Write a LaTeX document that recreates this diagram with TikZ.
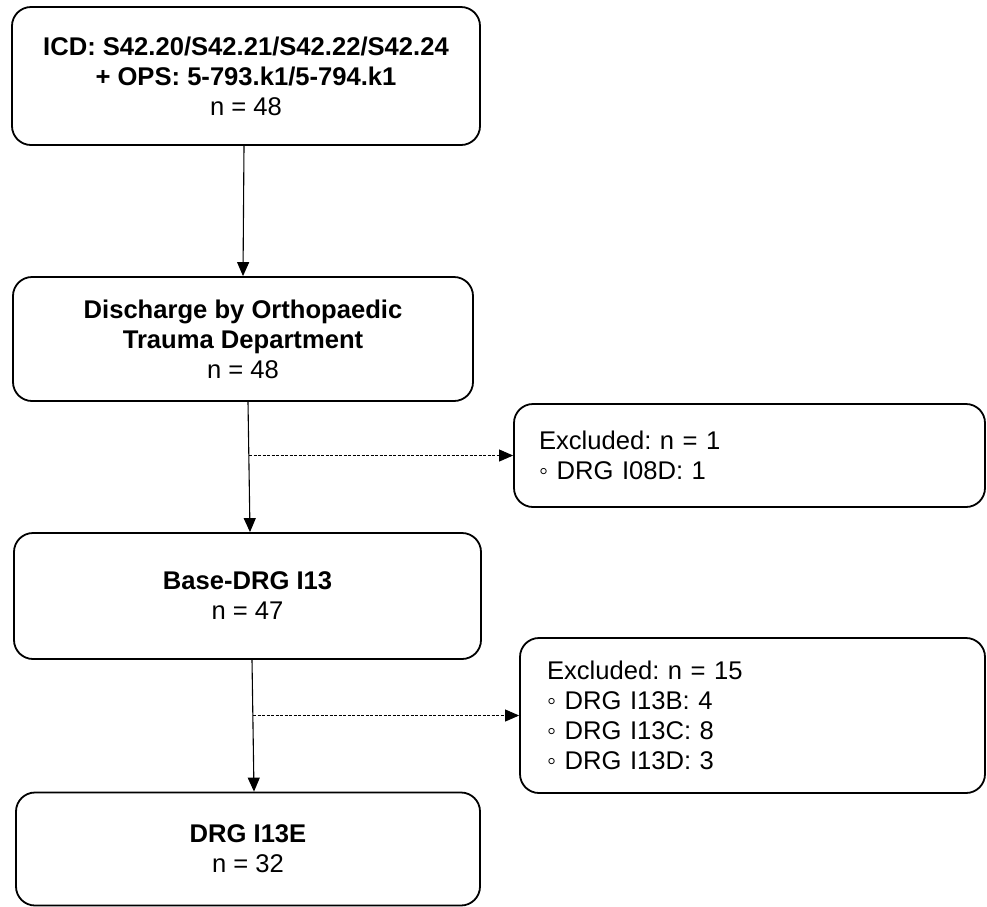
\documentclass[tikz,border=0pt]{standalone}
\usepackage{fontspec}
\setmainfont{Liberation Sans}
\usetikzlibrary{arrows.meta}
\frenchspacing

\tikzset{
  every node/.style={font=\fontsize{25.6}{30}\selectfont},
  stagebox/.style={draw, line width=1.8pt, rounded corners=19pt, inner sep=0pt,
    align=center},
  exclbox/.style={draw, line width=1.8pt, rounded corners=19pt, inner ysep=0pt,
    align=left},
  flow/.style={line width=1.1pt, -{Triangle[length=14pt,width=12pt]}},
  exclflow/.style={line width=0.9pt, dash pattern=on 3pt off 1.5pt,
    -{Triangle[length=14pt,width=12pt]}}
}

\begin{document}
\begin{tikzpicture}[x=1pt, y=-1pt]
  \useasboundingbox (0,0) rectangle (987,906);

  % main selection steps
  \node[stagebox, minimum width=468pt, minimum height=138pt] (b1) at (246,76)
    {\textbf{ICD: S42.20/S42.21/S42.22/S42.24}\\
     \textbf{+ OPS: 5-793.k1/5-794.k1}\\ n = 48};
  \node[stagebox, minimum width=460pt, minimum height=124pt] (b2) at (243,339)
    {\textbf{Discharge by Orthopaedic}\\ \textbf{Trauma Department}\\ n = 48};
  \node[stagebox, minimum width=467pt, minimum height=126pt] (b3) at (247.5,596)
    {\textbf{Base-DRG I13}\\ n = 47};
  \node[stagebox, minimum width=464pt, minimum height=113pt] (b4) at (248,849)
    {\textbf{DRG I13E}\\ n = 32};

  % exclusions
  \node[exclbox, minimum width=471pt, minimum height=103pt, inner xsep=25pt,
        text width=421pt] (x1) at (749.5,455.5)
    {Excluded: n = 1\\ ◦ DRG I08D: 1};
  \node[exclbox, minimum width=465pt, minimum height=155pt, inner xsep=27pt,
        text width=411pt] (x2) at (752.5,715.5)
    {Excluded: n = 15\\ ◦ DRG I13B: 4\\ ◦ DRG I13C: 8\\ ◦ DRG I13D: 3};

  % branch points on the vertical connectors
  \coordinate (j1) at (249,455.5);
  \coordinate (j2) at (253,715.5);

  % connectors
  \draw[flow] ([xshift=-2pt]b1.south) -- (b2.north);
  \draw[flow] ([xshift=5pt]b2.south) -- ([xshift=2.5pt]b3.north);
  \draw[flow] ([xshift=4.5pt]b3.south) -- ([xshift=6pt]b4.north);
  \draw[exclflow] (j1) -- (x1.west);
  \draw[exclflow] (j2) -- (x2.west);
\end{tikzpicture}
\end{document}
